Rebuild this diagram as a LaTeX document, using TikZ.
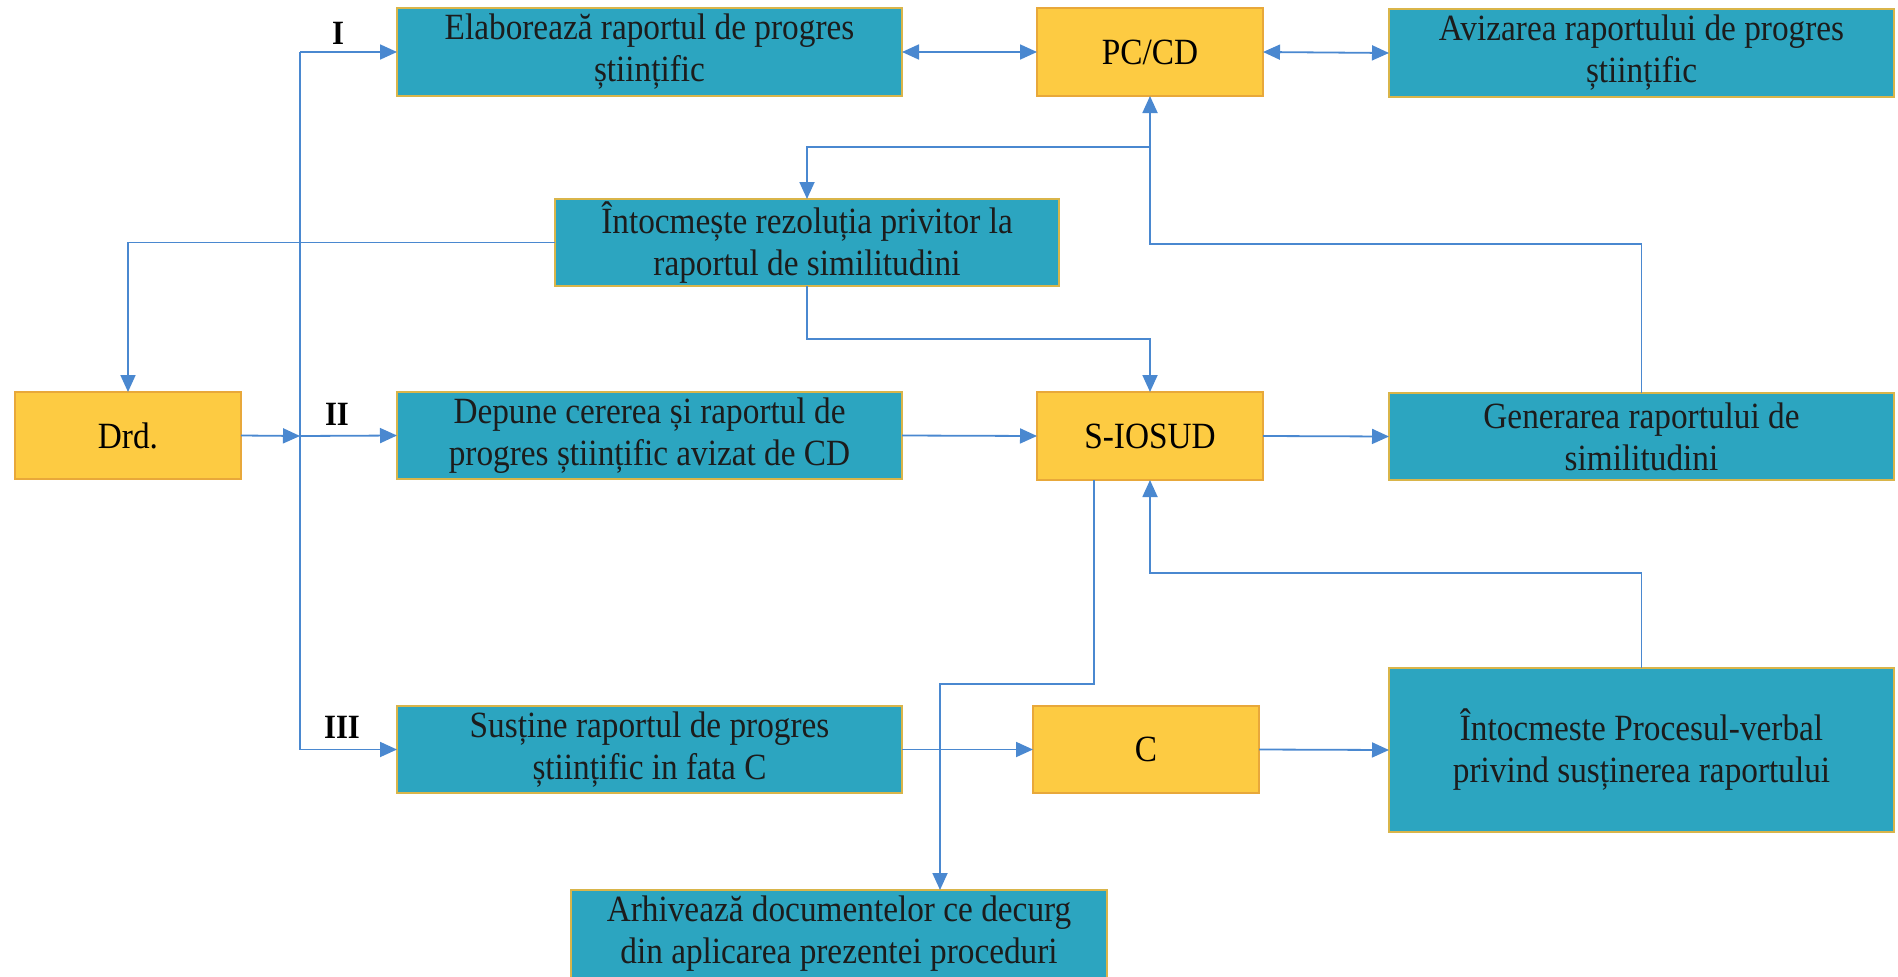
\documentclass[tikz,border=0pt]{standalone}
\usepackage{fontspec}
\setmainfont{Liberation Serif}[FakeStretch=0.9]
\usetikzlibrary{arrows.meta}
\definecolor{boxteal}{HTML}{2CA5C0}
\definecolor{boxyellow}{HTML}{FDCB42}
\definecolor{tealborder}{HTML}{D9B54A}
\definecolor{yelborder}{HTML}{E8A83A}
\definecolor{lineblue}{HTML}{4A88D0}
\definecolor{txtdark}{HTML}{1C1C1C}
\tikzset{
  base/.style={draw, line width=2pt, inner sep=0pt, outer sep=0pt, align=center,
    font=\fontsize{37}{42}\selectfont, text=txtdark},
  tbox/.style={base, fill=boxteal, draw=tealborder},
  ybox/.style={base, fill=boxyellow, draw=yelborder, text=black},
  conn/.style={draw=lineblue, line width=1.8pt},
  arr/.style={conn, -{Triangle[length=17pt,width=15pt]}},
  darr/.style={conn, {Triangle[length=17pt,width=15pt]}-{Triangle[length=17pt,width=15pt]}},
  roman/.style={font=\fontsize{34}{40}\selectfont\bfseries, text=black, inner sep=0pt}
}
\begin{document}
\begin{tikzpicture}[x=1pt,y=-1pt]
\fill[white] (0,0) rectangle (1898,977);
\useasboundingbox (0,0) rectangle (1898,977);

% nodes
\node[tbox, minimum width=505pt, minimum height=88pt] (elab) at (649.5,52) {Elaborează raportul de progres\\științific};
\node[ybox, minimum width=226pt, minimum height=88pt] (pccd) at (1150,52) {PC/CD};
\node[tbox, minimum width=505pt, minimum height=88pt] (aviz) at (1641.5,53) {Avizarea raportului de progres\\științific};
\node[tbox, minimum width=504pt, minimum height=87pt] (intoc) at (807,242.5) {Întocmește rezoluția privitor la\\raportul de similitudini};
\node[ybox, minimum width=226pt, minimum height=87pt] (drd) at (128,435.5) {Drd.};
\node[tbox, minimum width=505pt, minimum height=87pt] (depune) at (649.5,435.5) {Depune cererea și raportul de\\progres științific avizat de CD};
\node[ybox, minimum width=226pt, minimum height=88pt] (siosud) at (1150,436) {S-IOSUD};
\node[tbox, minimum width=505pt, minimum height=87pt] (gen) at (1641.5,436.5) {Generarea raportului de\\similitudini};
\node[tbox, minimum width=505pt, minimum height=87pt] (sustine) at (649.5,749.5) {Susține raportul de progres\\științific in fata C};
\node[ybox, minimum width=226pt, minimum height=87pt] (c) at (1146,749.5) {C};
\node[tbox, minimum width=505pt, minimum height=164pt] (proc) at (1641.5,750) {Întocmeste Procesul-verbal\\privind susținerea raportului};
\node[tbox, minimum width=536pt, minimum height=88pt] (arh) at (839,934) {Arhivează documentelor ce decurg\\din aplicarea prezentei proceduri};

% roman labels
\node[roman] (lI) at (338,33) {I};
\node[roman] (lII) at (337,414) {II};
\node[roman] (lIII) at (342,727) {III};

% coordinates
\coordinate (t1) at (300,52);
\coordinate (t2) at (300,436);
\coordinate (t3) at (300,749.5);
\coordinate (j1) at (1150,244);
\coordinate (j2) at (1150,147);
\coordinate (j3) at (807,339);
\coordinate (j4) at (1150,573);
\coordinate (j5) at (1094,684);
\coordinate (j6) at (940,684);

% connectors
\draw[darr] (elab.east) -- (pccd.west);
\draw[darr] (pccd.east) -- (aviz.west);
\draw[conn] (t1) -- (t3);
\draw[arr] (t1) -- (elab.west);
\draw[arr] (t2) -- (depune.west);
\draw[arr] (t3) -- (sustine.west);
\draw[arr] (drd.east) -- (t2);
\draw[arr] (gen.north) |- (j1) -- (pccd.south);
\draw[arr] (j2) -| (intoc.north);
\draw[arr] (intoc.west) -| (drd.north);
\draw[arr] (intoc.south) -- (j3) -| (siosud.north);
\draw[arr] (depune.east) -- (siosud.west);
\draw[arr] (siosud.east) -- (gen.west);
\draw[arr] (proc.north) |- (j4) -- (siosud.south);
\draw[arr] (siosud.south -| j5) -- (j5) -- (j6) -- (j6 |- arh.north);
\draw[arr] (sustine.east) -- (c.west);
\draw[arr] (c.east) -- (proc.west);
\end{tikzpicture}
\end{document}
